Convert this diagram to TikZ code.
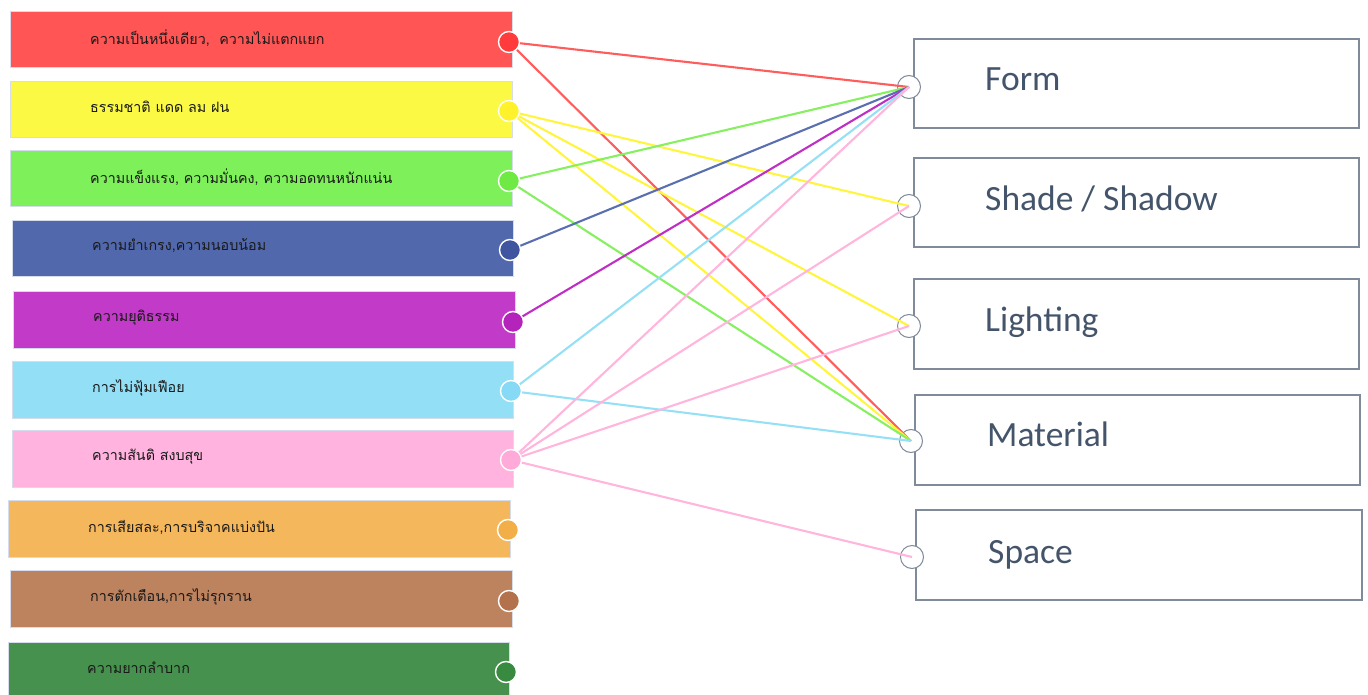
\documentclass[tikz,border=0pt]{standalone}
\usepackage{fontspec}
\newfontfamily\thaifont[Script=Thai]{Loma}
\newfontfamily\latfont{Carlito}
\definecolor{cRed}{HTML}{FF5555}\definecolor{dRed}{HTML}{FF3B3B}\definecolor{lRed}{HTML}{FF5C5C}
\definecolor{cYel}{HTML}{FCF945}\definecolor{dYel}{HTML}{FFF22A}\definecolor{lYel}{HTML}{FFF53D}
\definecolor{cGrn}{HTML}{7DF05A}\definecolor{dGrn}{HTML}{6FEA45}\definecolor{lGrn}{HTML}{86F060}
\definecolor{cBlu}{HTML}{5168AD}\definecolor{dBlu}{HTML}{3F55A0}\definecolor{lBlu}{HTML}{5A6FB0}
\definecolor{cPur}{HTML}{C23AC8}\definecolor{dPur}{HTML}{B424BA}\definecolor{lPur}{HTML}{C02FC5}
\definecolor{cSky}{HTML}{92DFF6}\definecolor{dSky}{HTML}{86DAF5}\definecolor{lSky}{HTML}{95E0F5}
\definecolor{cPnk}{HTML}{FFB3DE}\definecolor{dPnk}{HTML}{FFAAD8}\definecolor{lPnk}{HTML}{FFB5DC}
\definecolor{cOrg}{HTML}{F5B75B}\definecolor{dOrg}{HTML}{F3AF47}
\definecolor{cBrn}{HTML}{BD825E}\definecolor{dBrn}{HTML}{B3724C}
\definecolor{cDgr}{HTML}{47914F}\definecolor{dDgr}{HTML}{378A3F}
\definecolor{lboxborder}{HTML}{D5DCEC}
\definecolor{rboxborder}{HTML}{7F8A9A}
\definecolor{rtext}{HTML}{44546A}
\begin{document}
\begin{tikzpicture}[x=1pt,y=-1pt,
  lbox/.style={draw=lboxborder, line width=0.8pt, rectangle, inner sep=0pt},
  ltext/.style={anchor=west, inner sep=0pt, font=\thaifont\fontsize{14.3}{16}\selectfont, text=black!90},
  rbox/.style={draw=rboxborder, line width=1.3pt, rectangle, inner sep=0pt, fill=white},
  rtxt/.style={anchor=base west, inner sep=0pt, font=\latfont\fontsize{35.5}{40}\selectfont, text=rtext},
  ldot/.style={circle, draw=white, line width=1.4pt, minimum size=21pt, inner sep=0pt},
  rdot/.style={circle, draw=rboxborder, line width=1pt, fill=white, minimum size=23pt, inner sep=0pt},
  conn/.style={line width=2.1pt}]
\useasboundingbox (0,0) rectangle (1368,695);
\clip (0,0) rectangle (1368,695);
% left boxes
\node[lbox, fill=cRed, minimum width=502pt, minimum height=56pt] (b1) at (261,39) {};
\node[lbox, fill=cYel, minimum width=502pt, minimum height=56pt] (b2) at (261,109) {};
\node[lbox, fill=cGrn, minimum width=502pt, minimum height=56pt] (b3) at (261,178) {};
\node[lbox, fill=cBlu, minimum width=501pt, minimum height=56pt] (b4) at (262.5,248) {};
\node[lbox, fill=cPur, minimum width=502pt, minimum height=57pt] (b5) at (264,319.5) {};
\node[lbox, fill=cSky, minimum width=501pt, minimum height=57pt] (b6) at (262.5,389.5) {};
\node[lbox, fill=cPnk, minimum width=501pt, minimum height=57pt] (b7) at (262.5,458.5) {};
\node[lbox, fill=cOrg, minimum width=502pt, minimum height=57pt] (b8) at (259,528.5) {};
\node[lbox, fill=cBrn, minimum width=502pt, minimum height=57pt] (b9) at (261,598.5) {};
\node[lbox, fill=cDgr, minimum width=501pt, minimum height=58pt] (b10) at (258.5,671) {};
% left texts
\node[ltext] (t1) at (90,38) {ความเป็นหนึ่งเดียว,\ \ ความไม่แตกแยก};
\node[ltext] (t2) at (90,107) {ธรรมชาติ แดด ลม ฝน};
\node[ltext] (t3) at (90,177) {ความแข็งแรง, ความมั่นคง, ความอดทนหนักแน่น};
\node[ltext] (t4) at (92,246) {ความยำเกรง,ความนอบน้อม};
\node[ltext] (t5) at (93,318) {ความยุติธรรม};
\node[ltext] (t6) at (92,388) {การไม่ฟุ้มเฟือย};
\node[ltext] (t7) at (92,457) {ความสันติ สงบสุข};
\node[ltext] (t8) at (88,527) {การเสียสละ,การบริจาคแบ่งปัน};
\node[ltext] (t9) at (90,597) {การตักเตือน,การไม่รุกราน};
\node[ltext] (t10) at (87,668) {ความยากลำบาก};
% right boxes
\node[rbox, minimum width=445pt, minimum height=89pt] (r1) at (1136.5,83.5) {};
\node[rbox, minimum width=445pt, minimum height=89pt] (r2) at (1136.5,202.5) {};
\node[rbox, minimum width=445pt, minimum height=90pt] (r3) at (1136.5,324) {};
\node[rbox, minimum width=445pt, minimum height=90pt] (r4) at (1137.5,440) {};
\node[rbox, minimum width=446pt, minimum height=90pt] (r5) at (1139,555) {};
\node[rtxt] (s1) at (985,91) {Form};
\node[rtxt] (s2) at (985,211) {Shade / Shadow};
\node[rtxt] (s3) at (985,331) {Lighting};
\node[rtxt] (s4) at (987,446) {Material};
\node[rtxt] (s5) at (988,563) {Space};
% right dots
\node[rdot] (rc1) at (909,87) {};
\node[rdot] (rc2) at (909,206) {};
\node[rdot] (rc3) at (909,326) {};
\node[rdot] (rc4) at (911,441) {};
\node[rdot] (rc5) at (912,557) {};
% left dot coordinates
\coordinate (lc1) at (509,42);
\coordinate (lc2) at (509,111);
\coordinate (lc3) at (509,181);
\coordinate (lc4) at (510,250);
\coordinate (lc5) at (513,322);
\coordinate (lc6) at (511,391);
\coordinate (lc7) at (511,460);
\coordinate (lc8) at (508,530);
\coordinate (lc9) at (509,601);
\coordinate (lc10) at (506,672);
% connectors
\draw[conn, lRed] (lc1) -- (rc1.center);
\draw[conn, lRed] (lc1) -- (rc4.center);
\draw[conn, lYel] (lc2) -- (rc2.center);
\draw[conn, lYel] (lc2) -- (rc3.center);
\draw[conn, lYel] (lc2) -- (rc4.center);
\draw[conn, lGrn] (lc3) -- (rc1.center);
\draw[conn, lGrn] (lc3) -- (rc4.center);
\draw[conn, lBlu] (lc4) -- (rc1.center);
\draw[conn, lPur] (lc5) -- (rc1.center);
\draw[conn, lSky] (lc6) -- (rc1.center);
\draw[conn, lSky] (lc6) -- (rc4.center);
\draw[conn, lPnk] (lc7) -- (rc1.center);
\draw[conn, lPnk] (lc7) -- (rc2.center);
\draw[conn, lPnk] (lc7) -- (rc3.center);
\draw[conn, lPnk] (lc7) -- (rc5.center);
% left dots
\node[ldot, fill=dRed] (d1) at (lc1) {};
\node[ldot, fill=dYel] (d2) at (lc2) {};
\node[ldot, fill=dGrn] (d3) at (lc3) {};
\node[ldot, fill=dBlu] (d4) at (lc4) {};
\node[ldot, fill=dPur] (d5) at (lc5) {};
\node[ldot, fill=dSky] (d6) at (lc6) {};
\node[ldot, fill=dPnk] (d7) at (lc7) {};
\node[ldot, fill=dOrg] (d8) at (lc8) {};
\node[ldot, fill=dBrn] (d9) at (lc9) {};
\node[ldot, fill=dDgr] (d10) at (lc10) {};
\end{tikzpicture}
\end{document}
